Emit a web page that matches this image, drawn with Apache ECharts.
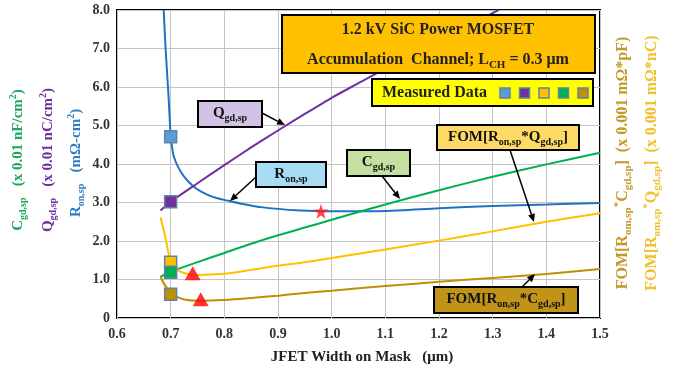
<!DOCTYPE html>
<html><head><meta charset="utf-8">
<script src="https://cdn.jsdelivr.net/npm/echarts@6/dist/echarts.min.js"></script>
<style>html,body{margin:0;padding:0;background:#fff}#c{width:675px;height:368px}</style>
</head><body><div id="c"></div>
<script>
// ---- data ----
const xTickLabels = ['0.6','0.7','0.8','0.9','1.0','1.1','1.2','1.3','1.4','1.5'];
const yTickLabels = ['0','1.0','2.0','3.0','4.0','5.0','6.0','7.0','8.0'];

const ronSp = [[0.687,8.0],[0.6905,7.0],[0.695,6.0],[0.698,5.25],[0.7,4.72],[0.703,4.4],[0.706,4.19],[0.714,3.92],[0.725,3.67],[0.74,3.45],[0.756,3.29],[0.78,3.14],[0.812,3.03],[0.868,2.88],[0.942,2.79],[1.0,2.77],[1.1,2.78],[1.2,2.85],[1.3,2.91],[1.4,2.95],[1.5,2.99]];
const qgdSp = [[0.681,2.79],[0.7,3.02],[0.75,3.5],[0.8,3.97],[0.85,4.43],[0.9,4.87],[0.95,5.3],[1.0,5.72],[1.05,6.1],[1.1,6.48],[1.15,6.85],[1.2,7.2],[1.25,7.56],[1.3,7.92],[1.311,8.0]];
const cgdSp = [[0.681,1.07],[0.7,1.2],[0.75,1.45],[0.8,1.69],[0.85,1.93],[0.9,2.15],[0.95,2.35],[1.0,2.55],[1.1,2.95],[1.2,3.32],[1.3,3.67],[1.4,3.99],[1.5,4.29]];
const fomQgd = [[0.681,2.62],[0.687,2.29],[0.693,1.9],[0.697,1.6],[0.7,1.43],[0.712,1.25],[0.73,1.15],[0.75,1.12],[0.8,1.15],[0.85,1.25],[0.9,1.36],[0.95,1.45],[1.0,1.56],[1.1,1.78],[1.2,2.01],[1.3,2.25],[1.4,2.5],[1.5,2.72]];
const fomCgd = [[0.681,1.07],[0.688,0.88],[0.695,0.74],[0.7,0.66],[0.71,0.56],[0.725,0.48],[0.75,0.45],[0.8,0.47],[0.85,0.52],[0.9,0.58],[0.95,0.65],[1.0,0.71],[1.1,0.83],[1.2,0.94],[1.3,1.04],[1.4,1.14],[1.5,1.27]];

const measuredX = 0.7;
const measuredRon = 4.71, measuredQgd = 3.02, measuredFomQgd = 1.45, measuredCgd = 1.19, measuredFomCgd = 0.62;
const fomQgdMin = [0.741, 1.16];
const fomCgdMin = [0.756, 0.49];
const ronMin = [0.98, 2.77];

// ---- styles ----
const FF = 'Liberation Serif';
const C_BLUE = '#1f72c0', C_BLUE_SQ = '#5b9bd5', C_PURPLE = '#7030a0', C_GREEN = '#00b050', C_YELLOW = '#ffc000', C_GOLD = '#bf9000';
const SQ_BORDER = '#5f83ad';

function lineSeries(name, data, color) {
  return { name, type: 'line', data, showSymbol: false, smooth: 0.25,
    lineStyle: { color, width: 2 }, itemStyle: { color }, z: 2, silent: true };
}
function sq(value, color) {
  return { type: 'scatter', data: [[measuredX, value]], symbol: 'rect', symbolSize: 12,
    itemStyle: { color, borderColor: SQ_BORDER, borderWidth: 1.5, opacity: 1 }, z: 5, silent: true };
}
const starPath = 'path://M50,0 L61,35 L98,35 L68,57 L79,91 L50,70 L21,91 L32,57 L2,35 L39,35 Z';

const chart = echarts.init(document.getElementById('c'), null, { renderer: 'canvas' });
chart.setOption({
  animation: false,
  backgroundColor: '#fff',
  grid: { left: 117, right: 75, top: 10, bottom: 50, show: true, borderColor: '#000', borderWidth: 2, backgroundColor: 'transparent' },
  xAxis: { type: 'value', min: 0.6, max: 1.5, interval: 0.1,
    axisLine: { show: false }, axisTick: { show: false },
    splitLine: { show: true, lineStyle: { color: '#c4c4c4', width: 1 } },
    axisLabel: { margin: 9, fontFamily: FF, fontWeight: 'bold', fontSize: 14, color: '#333',
      formatter: v => xTickLabels[Math.round((v - 0.6) / 0.1)] } },
  yAxis: { type: 'value', min: 0, max: 8, interval: 1,
    axisLine: { show: false }, axisTick: { show: false },
    splitLine: { show: true, lineStyle: { color: '#c4c4c4', width: 1 } },
    axisLabel: { margin: 7, fontFamily: FF, fontWeight: 'bold', fontSize: 14, color: '#333',
      formatter: v => yTickLabels[Math.round(v)] } },
  series: [
    lineSeries('Ron,sp', ronSp, C_BLUE),
    lineSeries('Qgd,sp', qgdSp, C_PURPLE),
    lineSeries('Cgd,sp', cgdSp, C_GREEN),
    lineSeries('FOM Qgd', fomQgd, C_YELLOW),
    lineSeries('FOM Cgd', fomCgd, C_GOLD),
    sq(measuredRon, C_BLUE_SQ), sq(measuredQgd, C_PURPLE), sq(measuredFomQgd, C_YELLOW), sq(measuredCgd, C_GREEN), sq(measuredFomCgd, C_GOLD),
    { type: 'scatter', data: [fomQgdMin, fomCgdMin], symbol: 'triangle', symbolSize: [16, 14], itemStyle: { color: '#ff0000' }, z: 6, silent: true },
    { type: 'scatter', data: [ronMin], symbol: starPath, symbolSize: 15, itemStyle: { color: '#ff1a1a' }, z: 6, silent: true }
  ]
});

// ---- annotations ----
function rich(size, color) {
  return {
    m: { fontFamily: FF, fontWeight: 'bold', fontSize: size, lineHeight: size + 5, color },
    s: { fontFamily: FF, fontWeight: 'bold', fontSize: Math.round(size * 0.66), lineHeight: Math.round(size * 0.66), verticalAlign: 'bottom', color },
    p: { fontFamily: FF, fontWeight: 'bold', fontSize: Math.round(size * 0.66), lineHeight: Math.round(size * 0.66), verticalAlign: 'top', color }
  };
}
function txt(x, y, text, size, color, rot, align) {
  return { type: 'text', x, y, rotation: rot || 0, z: 20,
    style: { text, rich: rich(size, color), align: align || 'center', verticalAlign: 'middle',
      fontFamily: FF, fontWeight: 'bold', fontSize: size, fill: color } };
}
function box(x, y, w, h, fill) {
  return { type: 'rect', shape: { x, y, width: w, height: h }, z: 15,
    style: { fill, stroke: '#000', lineWidth: 2 } };
}
function arrow(x1, y1, x2, y2) {
  const dx = x2 - x1, dy = y2 - y1, L = Math.hypot(dx, dy), ux = dx / L, uy = dy / L;
  const hl = 8, hw = 3.5;
  const bx = x2 - ux * hl, by = y2 - uy * hl;
  return [
    { type: 'line', shape: { x1, y1, x2: bx, y2: by }, z: 16, style: { stroke: '#000', lineWidth: 1.5 } },
    { type: 'polygon', shape: { points: [[x2, y2], [bx - uy * hw, by + ux * hw], [bx + uy * hw, by - ux * hw]] }, z: 16, style: { fill: '#000' } }
  ];
}

const g = [];
// axis names
const PI2 = Math.PI / 2;
g.push(txt(18, 160, '{m|C}{s|gd,sp}{m|   (x 0.01 nF/cm}{p|2}{m|)}', 15, '#1aa85a', PI2));
g.push(txt(48, 160, '{m|Q}{s|gd,sp}{m|   (x 0.01 nC/cm}{p|2}{m|)}', 15, C_PURPLE, PI2));
g.push(txt(76, 163, '{m|R}{s|on,sp}{m|   (mΩ-cm}{p|2}{m|)}', 15, '#2f7cc6', PI2));
g.push(txt(623, 163, '{m|FOM[R}{s|om,sp}{p|*}{m|C}{s|gd,sp}{m|]  (x 0.001 mΩ*pF)}', 16, '#c39a2a', PI2));
g.push(txt(652, 163, '{m|FOM[R}{s|om,sp}{p|*}{m|Q}{s|gd,sp}{m|]  (x 0.001 mΩ*nC)}', 16, '#f2c12e', PI2));
g.push(txt(362, 357, '{m|JFET Width on Mask   (μm)}', 15, '#222'));

// title boxes
g.push(box(282, 15, 313, 58, '#ffc000'));
g.push(txt(438, 30, '{m|1.2 kV SiC Power MOSFET}', 16, '#222'));
g.push(txt(438, 60, '{m|Accumulation  Channel; L}{s|CH}{m| = 0.3 μm}', 16, '#222'));
g.push(box(372, 79, 221, 27, '#ffff00'));
g.push(txt(382, 93, '{m|Measured Data}', 16, '#222', 0, 'left'));
[C_BLUE_SQ, C_PURPLE, C_YELLOW, C_GREEN, C_GOLD].forEach((c, i) => {
  g.push({ type: 'rect', shape: { x: 500 + i * 19.5, y: 88, width: 10, height: 10 }, z: 17,
    style: { fill: c, stroke: SQ_BORDER, lineWidth: 1.5 } });
});

// curve labels
g.push(box(198, 101, 64, 26, '#d2c3e6'));
g.push(txt(230, 113, '{m|Q}{s|gd,sp}', 15, '#111'));
g.push(...arrow(262, 113, 285, 125));

g.push(box(256, 162, 70, 25, '#a8dcf4'));
g.push(txt(291, 174, '{m|R}{s|on,sp}', 15, '#111'));
g.push(...arrow(256, 177, 230, 201));

g.push(box(347, 150, 63, 26, '#c4df9f'));
g.push(txt(378.5, 162, '{m|C}{s|gd,sp}', 15, '#111'));
g.push(...arrow(382, 176, 400, 199));

g.push(box(437, 125, 142, 25, '#ffd966'));
g.push(txt(508, 137, '{m|FOM[R}{s|on,sp}{m|*Q}{s|gd,sp}{m|]}', 15, '#111'));
g.push(...arrow(510, 150, 534, 222));

g.push(box(434, 287, 144, 26, '#c09418'));
g.push(txt(506, 299, '{m|FOM[R}{s|on,sp}{m|*C}{s|gd,sp}{m|]}', 15, '#111'));
g.push(...arrow(522, 287, 535, 274));

chart.setOption({ graphic: g });
</script></body></html>
